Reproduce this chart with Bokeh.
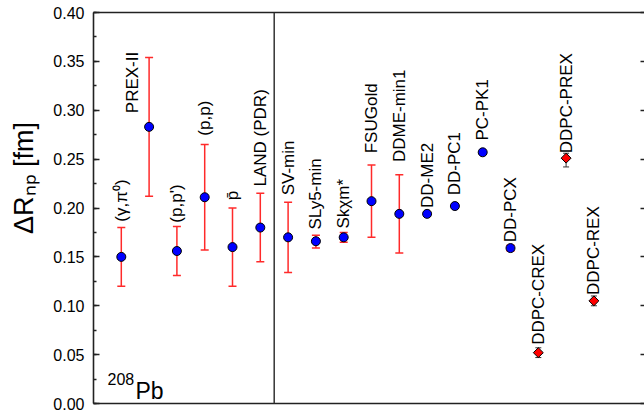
import numpy as np
from bokeh.plotting import figure
from bokeh.models import (ColumnDataSource, Whisker, TeeHead, Span, Label, LinearAxis,
                          SingleIntervalTicker, FixedTicker, NumeralTickFormatter,
                          CustomJSTickFormatter, Range1d)
from bokeh.core.properties import value
from bokeh.embed import file_html
from bokeh.resources import INLINE

# ---------------- data ----------------
exp_names = ["(γ,π⁰)", "PREX-II", "(p,p')", "(p,p)", "p\u0304", "LAND (PDR)"]
exp_vals = [0.150, 0.283, 0.156, 0.211, 0.160, 0.180]
exp_lo = [0.120, 0.212, 0.131, 0.157, 0.120, 0.145]
exp_hi = [0.180, 0.354, 0.181, 0.265, 0.200, 0.215]

model_names = ["SV-min", "SLy5-min", "Skχm*", "FSUGold", "DDME-min1",
               "DD-ME2", "DD-PC1", "PC-PK1", "DD-PCX"]
model_vals = [0.170, 0.166, 0.170, 0.207, 0.194, 0.194, 0.202, 0.257, 0.159]
model_lo = [0.134, 0.159, 0.165, 0.170, 0.154, None, None, None, 0.156]
model_hi = [0.206, 0.172, 0.175, 0.244, 0.234, None, None, None, 0.162]

new_names = ["DDPC-CREX", "DDPC-PREX", "DDPC-REX"]
new_vals = [0.052, 0.251, 0.105]
new_lo = [0.047, 0.242, 0.100]
new_hi = [0.057, 0.256, 0.110]

# where each rotated label starts (value axis) and its sideways shift (category units)
label_start = [0.186, 0.297, 0.185, 0.274, 0.208, 0.222,
               0.213, 0.178, 0.179, 0.256, 0.247, 0.200, 0.213, 0.269, 0.165,
               0.060, 0.256, 0.111]
label_shift = [0, -0.61, 0, 0, 0, 0,
               0, 0, 0, 0, 0, 0, 0, 0, 0,
               0, 0, 0]

y_title = "ΔRₙₚ [fm]"
y_tick_step = 0.05
y_min, y_max = 0.0, 0.40

FONT = "Liberation Sans"

# ---------------- derived ----------------
names = exp_names + model_names + new_names
vals = exp_vals + model_vals + new_vals
los = exp_lo + model_lo + new_lo
his = exp_hi + model_hi + new_hi
xs = list(range(len(names)))
n_circ = len(exp_names) + len(model_names)

p = figure(width=644, height=418,
           x_range=Range1d(-1, 18.82), y_range=Range1d(y_min, y_max),
           output_backend="svg", toolbar_location=None,
           x_axis_type=None,
           min_border_left=93, min_border_right=0,
           min_border_top=12, min_border_bottom=15)
p.outline_line_color = None
p.xgrid.visible = False
p.ygrid.visible = False
p.background_fill_color = "white"
p.border_fill_color = "white"

AX_COL = "#222222"
AX_W = 1.6

# left axis
ya = p.yaxis[0]
ya.ticker = SingleIntervalTicker(interval=y_tick_step, num_minor_ticks=2)
ya.formatter = NumeralTickFormatter(format="0.00")
ya.major_tick_in = 6
ya.major_tick_out = 0
ya.minor_tick_in = 3
ya.minor_tick_out = 0
ya.axis_line_color = AX_COL
ya.axis_line_width = AX_W
ya.major_tick_line_color = AX_COL
ya.major_tick_line_width = 1.3
ya.minor_tick_line_color = AX_COL
ya.minor_tick_line_width = 1.3
ya.major_label_text_font = FONT
ya.major_label_text_font_size = "16px"
ya.major_label_text_color = "black"
ya.major_label_standoff = 9
ya.axis_label = "\u00a0" * 8 + y_title
ya.axis_label_text_font = FONT
ya.axis_label_text_font_size = "27px"
ya.axis_label_text_font_style = "normal"
ya.axis_label_text_color = "black"
ya.axis_label_standoff = 11

# bottom & top frame lines
for loc in ("below", "above"):
    ax = LinearAxis(ticker=FixedTicker(ticks=[]), axis_line_color=AX_COL,
                    axis_line_width=AX_W, major_label_standoff=0,
                    major_tick_line_color=None, minor_tick_line_color=None)
    p.add_layout(ax, loc)

# right-side inward ticks (no axis line, no labels)
ra = LinearAxis(ticker=SingleIntervalTicker(interval=y_tick_step, num_minor_ticks=0),
                formatter=CustomJSTickFormatter(code="return ''"),
                axis_line_color=None, major_tick_in=4, major_tick_out=0,
                major_tick_line_color=AX_COL, major_tick_line_width=1.3,
                minor_tick_line_color=None, major_label_standoff=0)
p.add_layout(ra, "right")

# separator between measurements and models
p.add_layout(Span(location=len(exp_names) - 0.5, dimension="height",
                  line_color="#333333", line_width=1.5))

# error bars
def whisk(idx, color, width, cap):
    src = ColumnDataSource(dict(
        x=[xs[i] for i in idx], lo=[los[i] for i in idx], hi=[his[i] for i in idx]))
    w = Whisker(base="x", lower="lo", upper="hi", source=src, dimension="height",
                line_color=color, line_width=width, level="underlay",
                upper_head=TeeHead(size=cap, line_color=color, line_width=width),
                lower_head=TeeHead(size=cap, line_color=color, line_width=width))
    p.add_layout(w)

whisk([i for i in range(n_circ) if los[i] is not None], "#ff2a2a", 1.5, 8)
whisk(list(range(n_circ, len(names))), "#333333", 1.0, 6)

# markers
p.scatter(xs[:n_circ], vals[:n_circ], marker="circle", size=9,
          fill_color="#0000ff", line_color="black", line_width=1)
p.scatter(xs[n_circ:], vals[n_circ:], marker="square", angle=np.pi / 4, size=7,
          fill_color="#ff0000", line_color="black", line_width=1)

# rotated point labels
lab_src = ColumnDataSource(dict(
    x=[xs[i] + label_shift[i] for i in range(len(names))],
    y=label_start, t=names))
p.text(x="x", y="y", text="t", source=lab_src, angle=np.pi / 2,
       text_align="left", text_baseline="middle",
       text_font=value(FONT), text_font_size="17px", text_color="black")

# nucleus tag
def lab(txt, x, y, size):
    p.add_layout(Label(x=x, y=y, x_units="screen", y_units="screen", text=txt,
                       text_align="left", text_baseline="alphabetic",
                       text_font=FONT, text_font_size=size, text_color="black"))

lab("208", 14, 25, "16px")
lab("Pb", 42, 13, "23px")

open("out.html", "w").write(file_html(p, INLINE))
